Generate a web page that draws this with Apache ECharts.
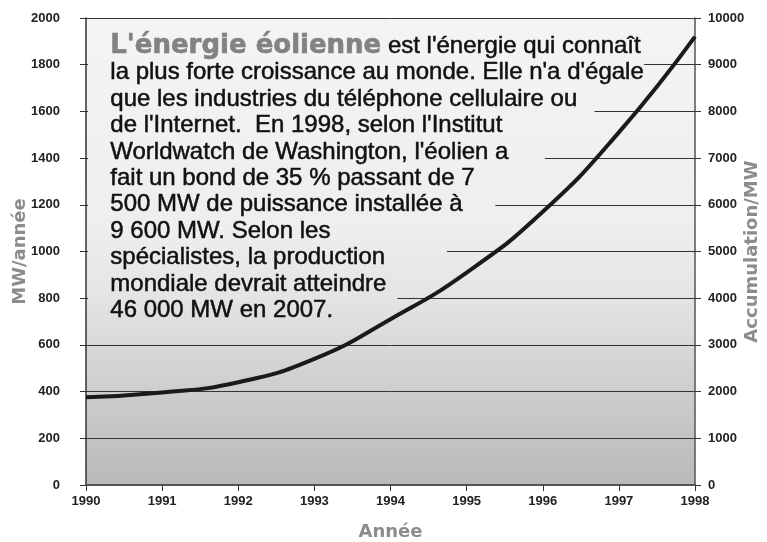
<!DOCTYPE html>
<html>
<head>
<meta charset="utf-8">
<script src="https://cdn.jsdelivr.net/npm/echarts@6/dist/echarts.min.js"></script>
<style>
  html, body { margin: 0; padding: 0; background: #fff; }
  #chart { width: 767px; height: 542px; }
</style>
</head>
<body>
<div id="chart"></div>
<script>
// données
var annees = ['1990', '1991', '1992', '1993', '1994', '1995', '1996', '1997', '1998'];
var cumulMW = [1880, 1980, 2200, 2700, 3550, 4550, 5850, 7550, 9600];
var ticksGauche = [0, 200, 400, 600, 800, 1000, 1200, 1400, 1600, 1800, 2000];

var texteTitre = "L'énergie éolienne";
var texteLignes = [
  "est l'énergie qui connaît",
  "la plus forte croissance au monde. Elle n'a d'égale",
  "que les industries du téléphone cellulaire ou",
  "de l'Internet.  En 1998, selon l'Institut",
  "Worldwatch de Washington, l'éolien a",
  "fait un bond de 35 % passant de 7",
  "500 MW de puissance installée à",
  "9 600 MW. Selon les",
  "spécialistes, la production",
  "mondiale devrait atteindre",
  "46 000 MW en 2007."
];

var chart = echarts.init(document.getElementById('chart'));

// fond gris dégradé (plus foncé en bas)
function fond() {
  return new echarts.graphic.LinearGradient(0, 18, 0, 485, [
    { offset: 0, color: '#f4f4f4' },
    { offset: 0.45, color: '#eeeeee' },
    { offset: 0.6, color: '#e4e4e4' },
    { offset: 0.7, color: '#d9d9d9' },
    { offset: 0.8, color: '#cdcdcd' },
    { offset: 0.9, color: '#c3c3c3' },
    { offset: 1, color: '#b9b9b9' }
  ], true);
}

var tickFont = {
  color: '#222',
  fontSize: 13,
  fontWeight: 'bold',
  fontFamily: '"Liberation Sans Narrow", "Liberation Sans", Arial, sans-serif',
  formatter: function (v) { return String(v); }
};
var nameFont = {
  color: '#8c8c8c',
  fontSize: 18,
  fontWeight: 'bold',
  fontFamily: '"DejaVu Sans", sans-serif'
};

var rich = {
  t: { fontSize: 26, fontWeight: 'bold', fill: '#828282', fontFamily: '"DejaVu Sans", sans-serif', lineHeight: 26.4,
       stroke: '#828282', lineWidth: 0.6 },
  b: { fontSize: 24, fill: '#111', fontFamily: '"Liberation Sans", Arial, sans-serif', lineHeight: 26.4,
       stroke: '#111', lineWidth: 0.5 }
};
var lignes = ['{t|' + texteTitre + '}{b| ' + texteLignes[0] + '}'];
for (var i = 1; i < texteLignes.length; i++) lignes.push('{b|' + texteLignes[i] + '}');

var option = {
  backgroundColor: '#fff',
  animation: false,
  grid: {
    left: 86, right: 72, top: 18, bottom: 57,
    outerBoundsMode: 'none',
    containLabel: false,
    show: true,
    backgroundColor: fond(),
    borderWidth: 0
  },
  xAxis: {
    type: 'category',
    data: annees,
    boundaryGap: false,
    name: 'Année',
    nameLocation: 'middle',
    nameGap: 38,
    nameTextStyle: nameFont,
    axisLine: { lineStyle: { color: '#555', width: 2 } },
    axisTick: { length: 6, lineStyle: { color: '#333' } },
    axisLabel: Object.assign({ margin: 10 }, tickFont)
  },
  yAxis: [{
    type: 'value',
    min: 0, max: 2000, interval: 200,
    name: 'MW/année',
    nameLocation: 'middle',
    nameRotate: 90,
    nameGap: 57,
    nameMoveOverlap: false,
    nameTextStyle: nameFont,
    axisLine: { show: true, lineStyle: { color: '#333', width: 1.5 } },
    axisTick: { show: true, length: 6, lineStyle: { color: '#333' } },
    axisLabel: Object.assign({ margin: 26 }, tickFont),
    splitLine: { show: true, lineStyle: { color: '#333', width: 1 } }
  }, {
    type: 'value',
    min: 0, max: 10000, interval: 1000,
    name: 'Accumulation/MW',
    nameLocation: 'middle',
    nameRotate: 90,
    nameGap: 48,
    nameMoveOverlap: false,
    nameTextStyle: nameFont,
    axisLine: { show: true, lineStyle: { color: '#555', width: 1.5 } },
    axisTick: { show: true, length: 6, lineStyle: { color: '#333' } },
    axisLabel: Object.assign({ margin: 13 }, tickFont),
    splitLine: { show: false }
  }],
  graphic: [{
    // cache les lignes de grille derrière le texte
    type: 'polygon',
    z: 1,
    silent: true,
    shape: { points: [[88, 19], [692, 19], [362, 332], [88, 332]] },
    style: { fill: fond() }
  }, {
    type: 'text',
    z: 10,
    left: 110,
    top: 33,
    style: {
      text: lignes.join('\n'),
      rich: rich
    }
  }],
  series: [{
    type: 'line',
    yAxisIndex: 1,
    data: cumulMW,
    smooth: true,
    symbol: 'none',
    z: 5,
    lineStyle: { color: '#1a1a1a', width: 4 }
  }]
};

chart.setOption(option);
</script>
</body>
</html>
